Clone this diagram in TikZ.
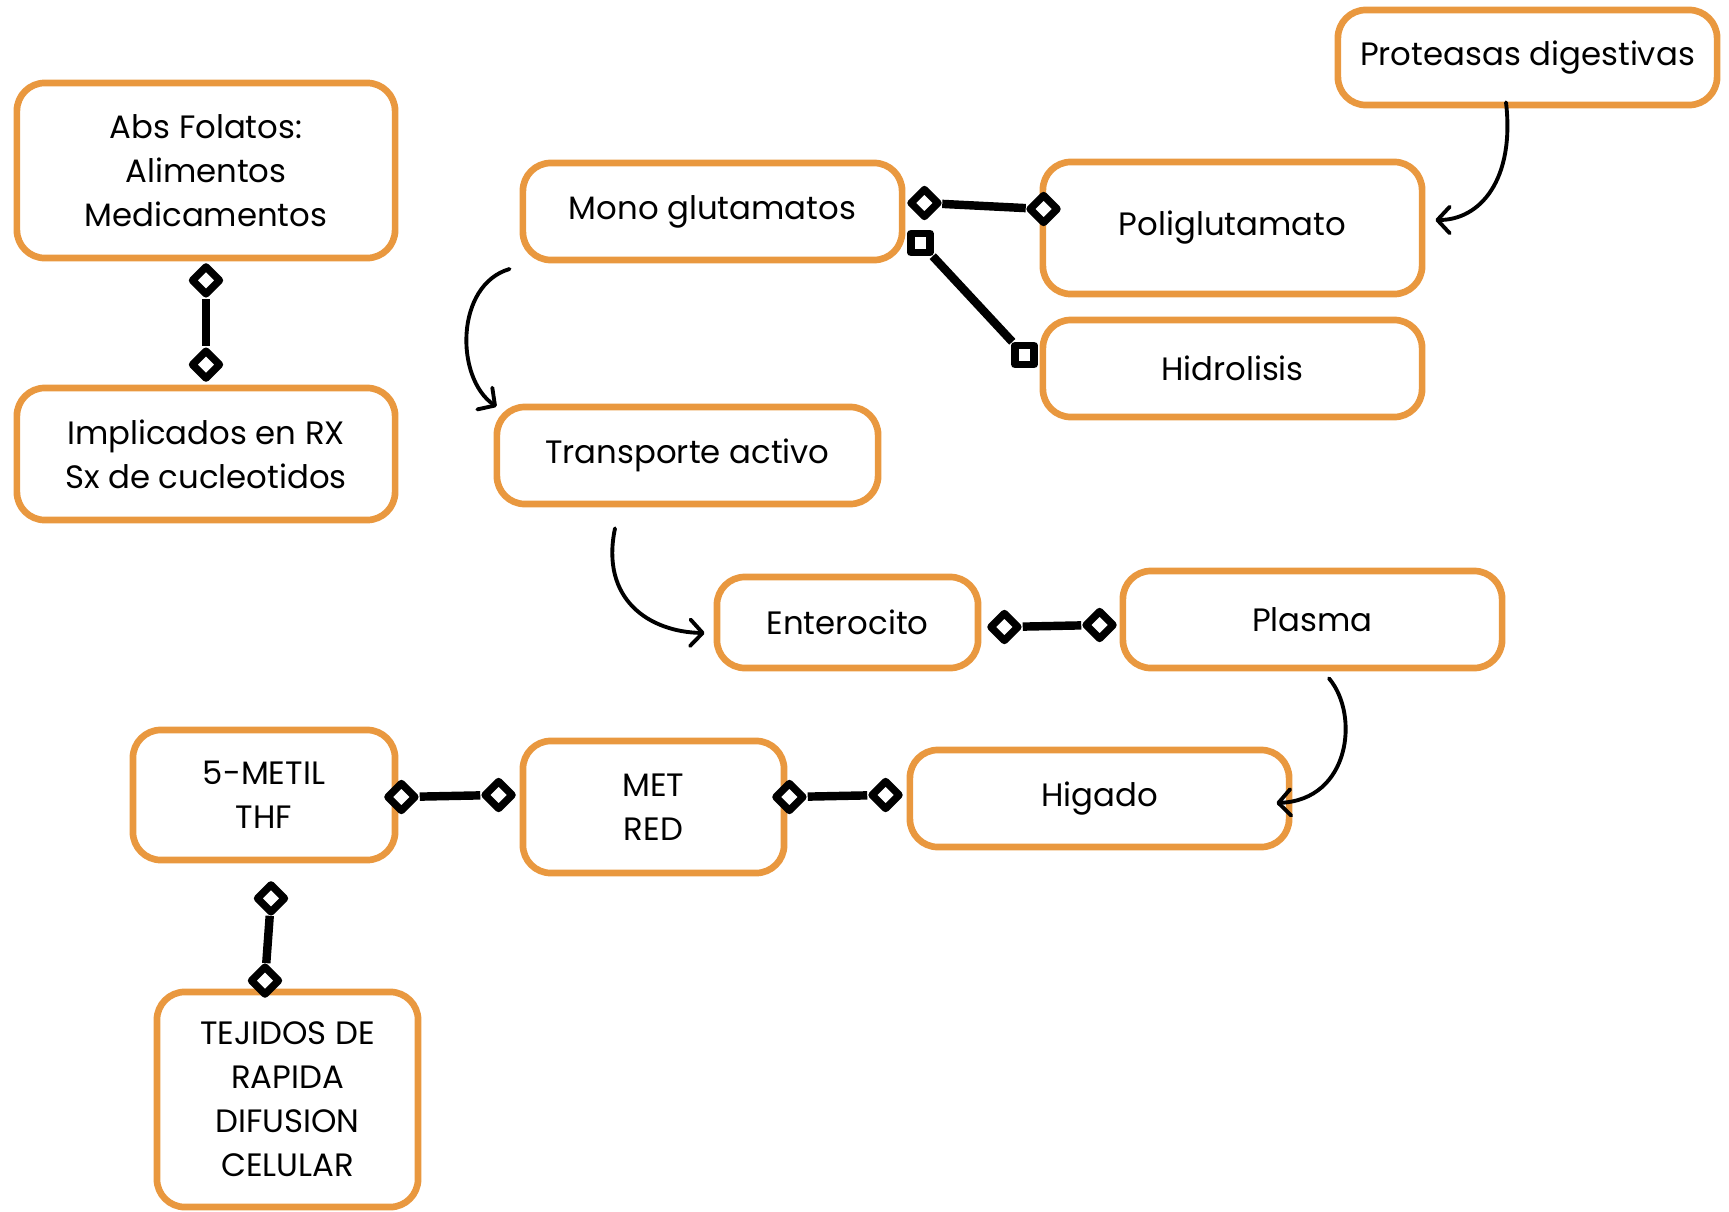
\documentclass[tikz,border=0pt]{standalone}
\usepackage{fontspec}
\setmainfont{Poppins}
\usetikzlibrary{arrows.meta,shapes.geometric,calc}
\definecolor{boxor}{HTML}{E9983F}
\begin{document}
\begin{tikzpicture}[x=0.01cm,y=-0.01cm,
  box/.style={draw=boxor, line width=1.9pt, rounded corners=0.28cm, inner sep=0pt, align=center,
    font=\fontsize{9.2pt}{12.5pt}\selectfont},
  dmk/.style={diamond, draw=black, fill=white, line width=2.1pt, line join=round, minimum size=0.3cm, inner sep=0pt},
  smk/.style={rectangle, draw=black, fill=white, line width=2.1pt, line join=round, minimum size=0.19cm, inner sep=0pt},
  link/.style={line width=2.4pt, black},
  curv/.style={line width=1.1pt, line cap=round, -{Straight Barb[length=3.5pt,width=7.5pt,line cap=round,line join=round]}}
]
\useasboundingbox (0,0) rectangle (1729,1212);

% boxes
\node[box, minimum width=3.78cm, minimum height=1.75cm] (absf) at (206,170.5) {Abs Folatos:\\Alimentos\\Medicamentos};
\node[box, minimum width=3.78cm, minimum height=1.32cm] (impl) at (206,454) {Implicados en RX\\Sx de cucleotidos};
\node[box, minimum width=3.79cm, minimum height=0.97cm] (mono) at (712.5,211.5) {Mono glutamatos};
\node[box, minimum width=3.79cm, minimum height=1.32cm] (poli) at (1232.5,228) {Poliglutamato};
\node[box, minimum width=3.79cm, minimum height=0.95cm] (prot) at (1527.5,57.5) {Proteasas digestivas};
\node[box, minimum width=3.79cm, minimum height=0.97cm] (hidr) at (1232.5,368.5) {Hidrolisis};
\node[box, minimum width=3.81cm, minimum height=0.97cm] (trans) at (687.5,455.5) {Transporte activo};
\node[box, minimum width=2.61cm, minimum height=0.91cm] (ent) at (847.5,622.5) {Enterocito};
\node[box, minimum width=3.79cm, minimum height=0.97cm] (plas) at (1312.5,619.5) {Plasma};
\node[box, minimum width=3.79cm, minimum height=0.97cm] (hig) at (1099.5,798.5) {Higado};
\node[box, minimum width=2.61cm, minimum height=1.32cm] (met) at (653.5,807) {MET\\RED};
\node[box, minimum width=2.62cm, minimum height=1.30cm] (metil) at (264,795) {5-METIL\\THF};
\node[box, minimum width=2.61cm, minimum height=2.15cm] (tej) at (287.5,1099.5) {TEJIDOS DE\\RAPIDA\\DIFUSION\\CELULAR};

% markers
\node[dmk] (d1) at ($(absf.south)+(0,19)$) {};
\node[dmk] (d2) at ($(impl.north)+(0,-20)$) {};
\node[dmk] (d3) at ($(mono.east)+(19,-8.5)$) {};
\node[dmk] (d4) at ($(poli.west)+(4,-19)$) {};
\node[smk] (s1) at ($(mono.east)+(15,31.5)$) {};
\node[smk] (s2) at ($(hidr.west)+(-15,-13.5)$) {};
\node[dmk] (d5) at ($(ent.east)+(23,4.5)$) {};
\node[dmk] (d6) at ($(plas.west)+(-20,5.5)$) {};
\node[dmk] (d7) at ($(hig.west)+(-21,-3.5)$) {};
\node[dmk] (d8) at ($(met.east)+(2,-10)$) {};
\node[dmk] (d9) at ($(met.west)+(-21,-12)$) {};
\node[dmk] (d10) at ($(metil.east)+(3,2)$) {};
\node[dmk] (d11) at ($(metil.south)+(7,35)$) {};
\node[dmk] (d12) at ($(tej.north)+(-22.5,-8)$) {};

% straight links
\draw[link] (d1) -- (d2);
\draw[link] (d3) -- (d4);
\draw[link] (s1) -- (s2);
\draw[link] (d5) -- (d6);
\draw[link] (d8) -- (d7);
\draw[link] (d10) -- (d9);
\draw[link] (d11) -- (d12);

% curved arrows
\draw[curv] ($(prot.south)+(-21.5,-6)$) .. controls (1515,180) and (1480,220) .. ($(poli.east)+(10,-8)$);
\draw[curv] ($(mono.west)+(-10,57.5)$) .. controls (455,285) and (455,378) .. ($(trans.north west)+(3,3)$);
\draw[curv] ($(trans.south)+(-72.5,21)$) .. controls (600,600) and (650,632) .. ($(ent.west)+(-9,10.5)$);
\draw[curv] ($(plas.south)+(16.5,7)$) .. controls (1360,715) and (1350,800) .. ($(hig.east)+(-16,4.5)$);
\end{tikzpicture}
\end{document}
